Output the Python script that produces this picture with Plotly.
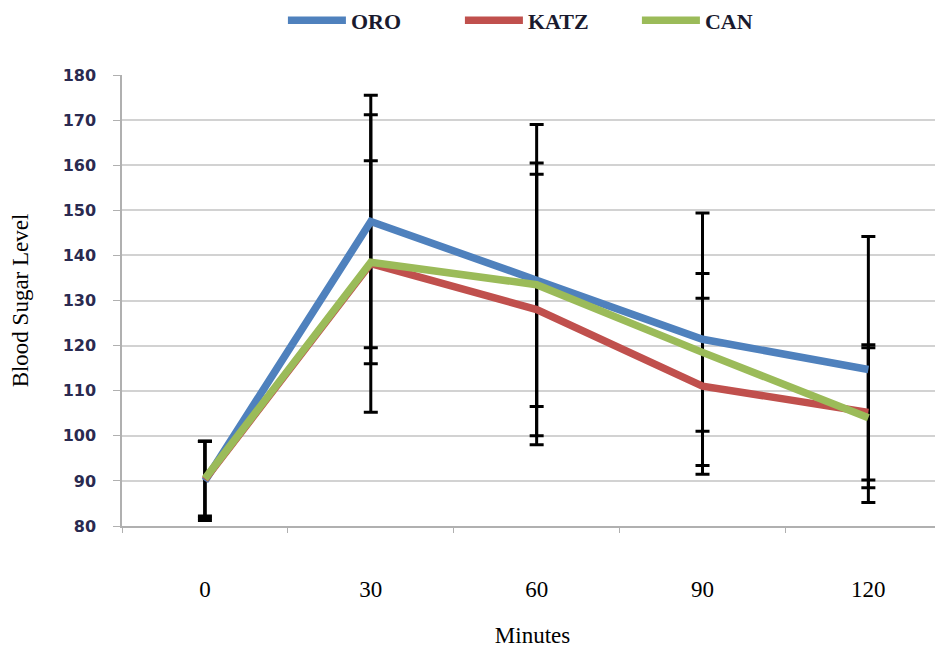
import plotly.graph_objects as go

minutes = ["0", "30", "60", "90", "120"]
oro = [90.0, 147.5, 134.5, 121.4, 114.7]
katz = [90.3, 138.2, 128.0, 111.0, 105.2]
can = [90.5, 138.5, 133.5, 118.5, 104.0]
oro_err = [8.8, 28.0, 34.5, 28.0, 29.5]
katz_err = [8.5, 33.0, 30.0, 19.5, 15.0]
can_err = [8.3, 22.5, 27.0, 17.5, 15.5]

names = ["ORO", "KATZ", "CAN"]
colors = ["#4F81BD", "#C0504D", "#9BBB59"]
series = [oro, katz, can]
errors = [oro_err, katz_err, can_err]

fig = go.Figure()

# error bars drawn first (beneath lines)
for vals, errs in zip(series, errors):
    fig.add_trace(go.Scatter(
        x=minutes, y=vals, mode="markers",
        marker=dict(size=1, color="rgba(0,0,0,0)"),
        error_y=dict(type="data", array=errs, visible=True,
                     color="#000000", thickness=3, width=7),
        showlegend=False, hoverinfo="skip"))

for name, vals, col in zip(names, series, colors):
    fig.add_trace(go.Scatter(
        x=minutes, y=vals, mode="lines", name=name,
        line=dict(color=col, width=7.5)))

fig.update_layout(
    width=935, height=641,
    margin=dict(l=114, r=0, t=67, b=123, autoexpand=False),
    plot_bgcolor="white", paper_bgcolor="white",
    showlegend=True,
    legend=dict(orientation="h", x=0.196, xanchor="left",
                y=1.121, yanchor="middle",
                font=dict(family="Liberation Serif", size=22, color="#1a1a2e",
                          weight="bold"),
                itemwidth=58, entrywidth=104, tracegroupgap=0,
                bgcolor="rgba(0,0,0,0)"),
    xaxis=dict(
        type="category", range=[-0.5, 4.45], automargin=False,
        showgrid=False, showline=True, linecolor="#b0b0b0", linewidth=1.5,
        ticks="outside", tickson="boundaries", ticklen=5, tickcolor="#b0b0b0",
        ticklabelstandoff=42,
        tickfont=dict(family="Liberation Serif", size=23, color="#000000"),
        title=dict(text="Minutes", standoff=26,
                   font=dict(family="Liberation Serif", size=23, color="#000000")),
        zeroline=False),
    yaxis=dict(
        range=[80, 180], dtick=10, tick0=80, automargin=False,
        showgrid=True, gridcolor="#d2d2d2", gridwidth=2,
        showline=True, linecolor="#b0b0b0", linewidth=1.5,
        ticks="outside", ticklen=7, tickcolor="#b0b0b0",
        ticklabelstandoff=14,
        tickfont=dict(family="DejaVu Sans", size=16, color="#2a2a50", weight="bold"),
        title=dict(text="Blood Sugar Level", standoff=29,
                   font=dict(family="Liberation Serif", size=23, color="#000000")),
        zeroline=False),
)

fig.write_html("out.html")
